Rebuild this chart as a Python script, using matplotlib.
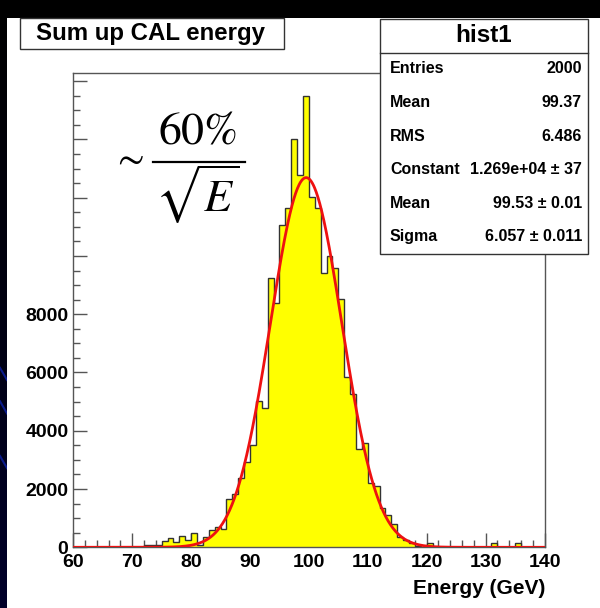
import numpy as np
import matplotlib
matplotlib.use("Agg")
import matplotlib.pyplot as plt
from matplotlib.patches import Rectangle
from matplotlib.lines import Line2D
from matplotlib.ticker import MultipleLocator, FixedLocator, FixedFormatter
from matplotlib.colors import LinearSegmentedColormap

# ---------------- data ----------------
x_range = (60, 140)
n_bins = 80
counts = [0, 0, 0, 0, 0, 0, 0, 0, 0, 0,
          0, 0, 80, 80, 80, 226, 309, 170, 390, 240,
          480, 90, 343, 593, 686, 617, 1646, 1840, 2367, 2937,
          3509, 5020, 4795, 9228, 8391, 11057, 11650, 14007, 12772, 15492,
          12028, 11650, 9420, 10003, 9592, 8518, 5832, 5249, 3362, 3588,
          2216, 2110, 1338, 1120, 810, 350, 250, 150, 60, 0,
          137, 0, 0, 0, 0, 0, 0, 0, 0, 0,
          0, 137, 0, 0, 0, 137, 0, 0, 0, 0]
fit_constant = 12690
fit_mean = 99.53
fit_sigma = 6.057
y_max = 16270
x_ticks = [60, 70, 80, 90, 100, 110, 120, 130, 140]
y_ticks = [0, 2000, 4000, 6000, 8000, 10000, 12000, 14000, 16000]
y_tick_labels = ["0", "2000", "4000", "6000", "8000", "", "", "", ""]
title_text = "Sum up CAL energy"
stats_name = "hist1"
stats_labels = ["Entries", "Mean", "RMS", "Constant", "Mean", "Sigma"]
stats_values = ["2000", "99.37", "6.486", "1.269e+04 \u00b1 37", "99.53 \u00b1 0.01", "6.057 \u00b1 0.011"]
x_title = "Energy (GeV)"
formula_num = r"$60\%$"
formula_den = r"$\sqrt{E}$"

W, H = 600, 608
plt.rcParams["mathtext.fontset"] = "stix"
fig = plt.figure(figsize=(W / 100, H / 100), dpi=100)
fig.patch.set_facecolor("white")

def fx(x):
    return x / W

def fy(y):
    return 1 - y / H

FONT = "Liberation Sans"

# slide background strips
fig.add_artist(Rectangle((0, fy(18)), 1, 18 / H, transform=fig.transFigure,
                         facecolor="black", edgecolor="none", zorder=0))
bg = fig.add_axes([0, 0, fx(7), 1])
grad = np.linspace(0, 1, 256).reshape(-1, 1)
cm = LinearSegmentedColormap.from_list("slide", ["#000000", "#000010", "#00002a"])
bg.imshow(grad, aspect="auto", cmap=cm, extent=[0, 1, 0, 1], origin="upper")
for y0 in [0.375, 0.32, 0.23]:
    bg.plot([0, 1], [y0 + 0.02, y0], color="#0a1a8a", lw=1.5)
bg.set_xlim(0, 1)
bg.set_ylim(0, 1)
bg.axis("off")

# ---------------- main axes ----------------
L, R, T, B = 73.3, 544.5, 73.3, 547.3
ax = fig.add_axes([fx(L), fy(B), (R - L) / W, (B - T) / H])
edges = np.linspace(x_range[0], x_range[1], n_bins + 1)
ax.stairs(counts, edges, fill=True, color="#ffff00", zorder=2)
ax.stairs(counts, edges, baseline=0, fill=False, color="#333333", lw=1.0, zorder=3)
xf = np.linspace(x_range[0], x_range[1], 800)
yf = fit_constant * np.exp(-0.5 * ((xf - fit_mean) / fit_sigma) ** 2)
ax.plot(xf, yf, color="#ee1111", lw=2.0, zorder=4)

ax.set_xlim(*x_range)
ax.set_ylim(0, y_max)
for s in ax.spines.values():
    s.set_color("#555555")
    s.set_linewidth(1.0)
ax.xaxis.set_major_locator(FixedLocator(x_ticks))
ax.xaxis.set_minor_locator(MultipleLocator(2))
ax.yaxis.set_major_locator(FixedLocator(y_ticks))
ax.yaxis.set_major_formatter(FixedFormatter(y_tick_labels))
ax.yaxis.set_minor_locator(MultipleLocator(500))
ax.tick_params(which="both", direction="in", top=False, right=False, color="#555555", width=1.0)
ax.tick_params(which="major", length=10)
ax.tick_params(which="minor", length=5)
ax.tick_params(axis="y", which="major", pad=3.5)
ax.tick_params(axis="x", which="major", pad=5)
for lab in ax.get_xticklabels() + ax.get_yticklabels():
    lab.set_fontfamily(FONT)
    lab.set_fontweight("bold")
    lab.set_fontsize(14)
    lab.set_color("black")

fig.text(fx(545), fy(588), x_title, ha="right", va="center", fontsize=15,
         fontweight="bold", family=FONT)

# formula  ~ 60% / sqrt(E)
fig.text(fx(128), fy(158), r"$\sim$", ha="center", va="center", fontsize=28, color="black")
fig.text(fx(198), fy(131), formula_num, ha="center", va="center", fontsize=33, color="black")
fig.add_artist(Line2D([fx(153), fx(245)], [fy(162), fy(162)], transform=fig.transFigure,
                      color="black", lw=1.6))
fig.text(fx(197), fy(194), formula_den, ha="center", va="center", fontsize=33, color="black")

# title box
fig.add_artist(Rectangle((fx(20), fy(49)), (284 - 20) / W, 31 / H, transform=fig.transFigure,
                         facecolor="white", edgecolor="#333333", lw=1.0, zorder=5))
fig.text(fx(151), fy(33.5), title_text, ha="center", va="center", fontsize=17.3,
         fontweight="bold", family=FONT, zorder=6)

# stats box
sx0, sx1, sy0, sy1 = 380, 588, 18.5, 254
fig.add_artist(Rectangle((fx(sx0), fy(sy1)), (sx1 - sx0) / W, (sy1 - sy0) / H,
                         transform=fig.transFigure, facecolor="white",
                         edgecolor="#333333", lw=1.0, zorder=5))
fig.add_artist(Line2D([fx(sx0), fx(sx1)], [fy(52.5), fy(52.5)], transform=fig.transFigure,
                      color="#333333", lw=1.0, zorder=6))
fig.text(fx((sx0 + sx1) / 2), fy(36), stats_name, ha="center", va="center", fontsize=17.5,
         fontweight="bold", family=FONT, zorder=7)
row_y = [68.5, 102.5, 136.5, 170, 204, 236.5]
for lab, val, yy in zip(stats_labels, stats_values, row_y):
    fig.text(fx(390), fy(yy), lab, ha="left", va="center", fontsize=11.5,
             fontweight="bold", family=FONT, zorder=7)
    fig.text(fx(582), fy(yy), val, ha="right", va="center", fontsize=11.5,
             fontweight="bold", family=FONT, zorder=7)

fig.savefig("out.png", dpi=100, facecolor=fig.get_facecolor())
